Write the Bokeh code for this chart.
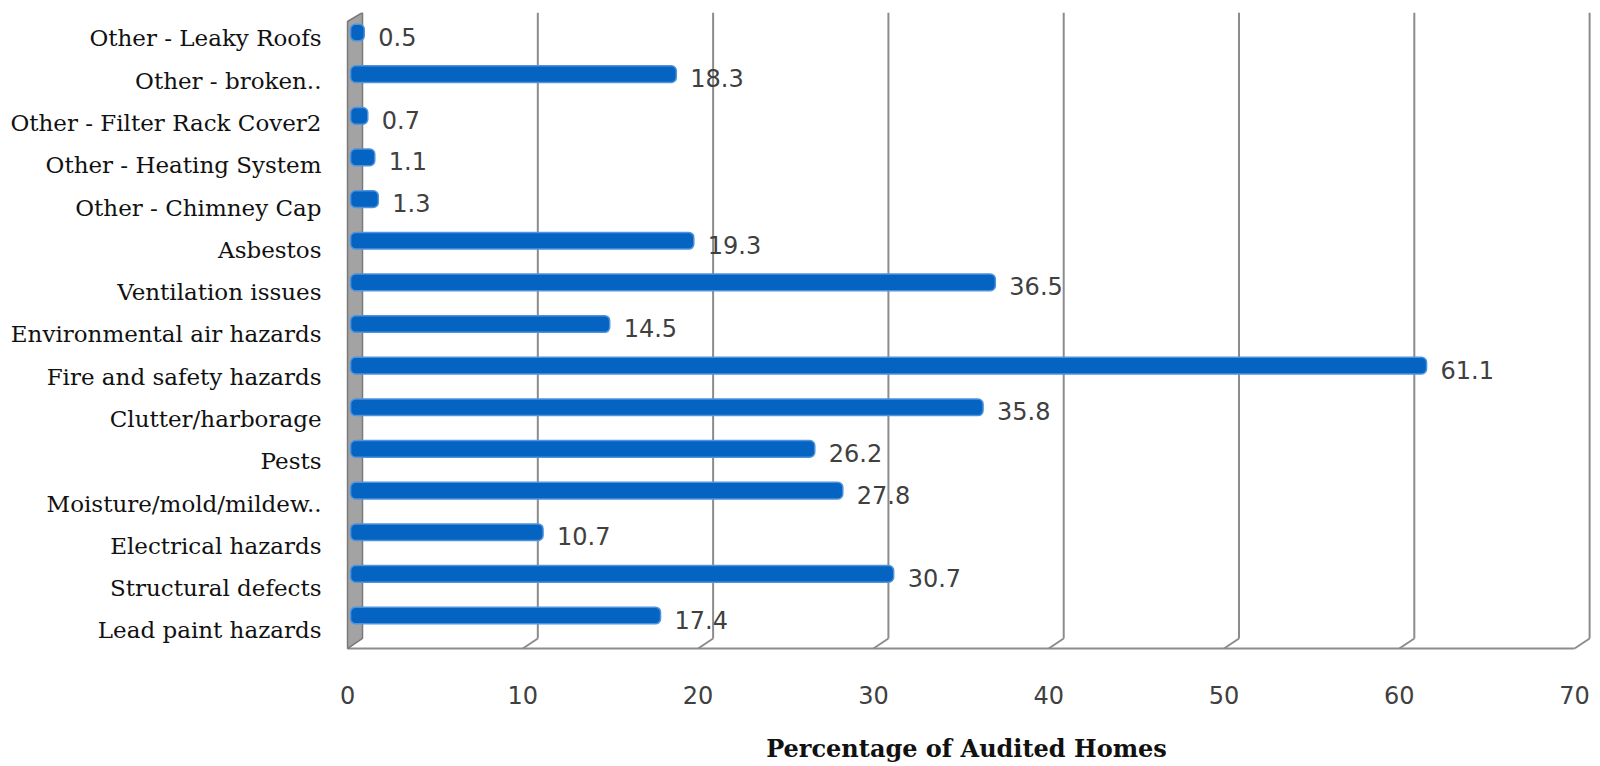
from bokeh.plotting import figure
from bokeh.models import Range1d, FixedTicker, LinearAxis, ColumnDataSource
from bokeh.core.properties import value
from bokeh.embed import file_html
from bokeh.resources import INLINE

# ---------------- data ----------------
categories = [
    "Lead paint hazards",
    "Structural defects",
    "Electrical hazards",
    "Moisture/mold/mildew..",
    "Pests",
    "Clutter/harborage",
    "Fire and safety hazards",
    "Environmental air hazards",
    "Ventilation issues",
    "Asbestos",
    "Other - Chimney Cap",
    "Other - Heating System",
    "Other - Filter Rack Cover2",
    "Other - broken..",
    "Other - Leaky Roofs",
]
percentages = [17.4, 30.7, 10.7, 27.8, 26.2, 35.8, 61.1, 14.5, 36.5, 19.3, 1.3, 1.1, 0.7, 18.3, 0.5]
x_ticks = [0, 10, 20, 30, 40, 50, 60, 70]
x_title = "Percentage of Audited Homes"

# ---------------- style / 3-D geometry constants ----------------
X0, X1 = -0.856, 70.565           # main (mid-depth) value range
Y0, Y1 = -1.3208, 14.481          # main category-index range
DXB, DXF = 0.40, -0.456           # back / front plane shifts (value units)
Y_BACK, Y_FRONT = -0.552, -0.7925  # floor back / front edge
Y_TOP_BACK, Y_TOP_FRONT = 14.481, 14.265
CAP = 0.28                        # cylinder end cap depth
BAR_H = 0.40

idx = list(range(len(categories)))
src = ColumnDataSource(dict(
    y=idx,
    right=percentages,
    left=[-CAP] * len(idx),
    lab=[f"{v:.1f}" for v in percentages],
))

p = figure(
    width=1600, height=766,
    x_range=Range1d(X0, X1), y_range=Range1d(Y0, Y1),
    x_axis_location=None, y_axis_location=None,
    output_backend="svg", toolbar_location=None,
    min_border_left=340, min_border_right=8,
    min_border_top=12, min_border_bottom=96,
)
p.outline_line_color = None
p.background_fill_color = "white"
p.border_fill_color = "white"
p.xgrid.visible = False
p.ygrid.visible = False

p.extra_x_ranges = {"front": Range1d(X0 - DXF, X1 - DXF)}
p.extra_y_ranges = {"lab": Range1d(-0.9459, 14.613)}

# back-wall gridlines
gx = [t + DXB for t in x_ticks[1:]]
p.segment(x0=gx, y0=[Y_BACK] * len(gx), x1=gx, y1=[Y_TOP_BACK] * len(gx),
          line_color="#8C8C8C", line_width=2)
# floor slants
fx = [t + DXF for t in x_ticks[1:]]
p.segment(x0=gx, y0=[Y_BACK] * len(gx), x1=fx, y1=[Y_FRONT] * len(gx),
          line_color="#8C8C8C", line_width=2)
# floor front edge
p.segment(x0=[x_ticks[0] + DXF], y0=[Y_FRONT], x1=[x_ticks[-1] + DXF], y1=[Y_FRONT],
          line_color="#8C8C8C", line_width=2)

# side wall
p.patch(x=[x_ticks[0] + DXB, x_ticks[0] + DXF, x_ticks[0] + DXF, x_ticks[0] + DXB],
        y=[Y_TOP_BACK, Y_TOP_FRONT, Y_FRONT, Y_BACK],
        fill_color="#A3A3A3", line_color="#7A7A7A", line_width=1.5)

# bars
p.hbar(y="y", left="left", right="right", height=BAR_H, source=src,
       fill_color="#0563C1", line_color="#4F93DC", line_width=1.5,
       border_radius=5)

# value labels
p.text(x="right", y="y", text="lab", source=src, x_offset=14, y_offset=4,
       text_align="left", text_baseline="middle",
       text_font=value("DejaVu Sans"), text_font_size="24px", text_color="#404040")

# x axis (front plane)
xaxis = LinearAxis(x_range_name="front", ticker=FixedTicker(ticks=x_ticks),
                   axis_label=x_title)
xaxis.axis_line_color = None
xaxis.major_tick_line_color = None
xaxis.minor_tick_line_color = None
xaxis.major_tick_out = 0
xaxis.major_label_standoff = 15
xaxis.major_label_text_font = "DejaVu Sans"
xaxis.major_label_text_font_size = "24px"
xaxis.major_label_text_color = "#404040"
xaxis.axis_label_standoff = 27
xaxis.axis_label_text_font = "DejaVu Serif"
xaxis.axis_label_text_font_style = "bold"
xaxis.axis_label_text_font_size = "24px"
xaxis.axis_label_text_color = "#111111"
p.add_layout(xaxis, "below")

# y axis (category labels)
yaxis = LinearAxis(y_range_name="lab", ticker=FixedTicker(ticks=idx),
                   major_label_overrides={i: c for i, c in zip(idx, categories)})
yaxis.axis_line_color = None
yaxis.major_tick_line_color = None
yaxis.minor_tick_line_color = None
yaxis.major_tick_out = 0
yaxis.major_label_standoff = 19
yaxis.major_label_text_font = "DejaVu Serif"
yaxis.major_label_text_font_size = "23px"
yaxis.major_label_text_color = "#111111"
p.add_layout(yaxis, "left")

open("out.html", "w").write(file_html(p, INLINE))
